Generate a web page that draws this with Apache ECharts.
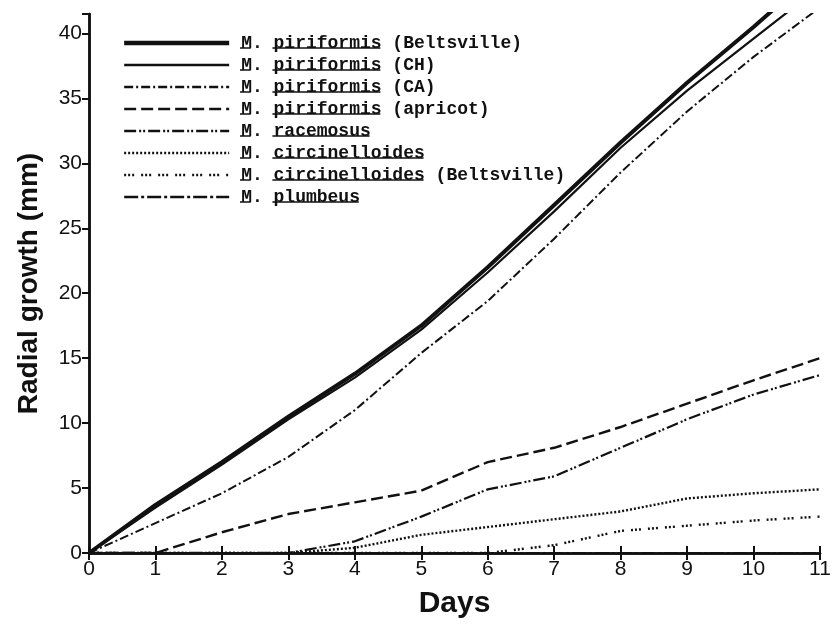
<!DOCTYPE html>
<html>
<head>
<meta charset="utf-8">
<script src="https://cdn.jsdelivr.net/npm/echarts@6/dist/echarts.min.js"></script>
<style>
  html, body { margin: 0; padding: 0; background: #fff; }
  #chart { width: 838px; height: 624px; }
</style>
</head>
<body>
<div id="chart"></div>
<script>
// days 0..11
const days = [0, 1, 2, 3, 4, 5, 6, 7, 8, 9, 10, 11]

// radial growth (mm)
const piriBeltsville = [0, 3.7, 7.0, 10.5, 13.8, 17.5, 22.0, 26.8, 31.6, 36.2, 40.5, 45.0]
const piriCH = [0, 3.5, 6.8, 10.3, 13.5, 17.2, 21.6, 26.3, 31.2, 35.6, 39.6, 43.6]
const piriCA = [0, 2.3, 4.6, 7.4, 11.0, 15.4, 19.4, 24.2, 29.3, 34.0, 38.2, 42.0]
const piriApricot = [0, 0, 1.6, 3.0, 3.9, 4.8, 7.0, 8.1, 9.7, 11.5, 13.3, 15.0]
const racemosus = [0, 0, 0, 0, 0.9, 2.8, 4.9, 5.9, 8.1, 10.3, 12.2, 13.7]
const circinelloides = [0, 0, 0, 0, 0.4, 1.4, 2.0, 2.6, 3.2, 4.2, 4.6, 4.9]
const circBeltsville = [0, 0, 0, 0, 0, 0, 0, 0.6, 1.7, 2.1, 2.5, 2.8]
const plumbeus = [0, 0, 0, 0, 0, 0, 0, 0, 0, 0, 0, 0]

const yTicks = [0, 5, 10, 15, 20, 25, 30, 35, 40]

// legend: [genus initial, species, suffix]
const legendNames = [
  ['M', 'piriformis', ' (Beltsville)'],
  ['M', 'piriformis', ' (CH)'],
  ['M', 'piriformis', ' (CA)'],
  ['M', 'piriformis', ' (apricot)'],
  ['M', 'racemosus', ''],
  ['M', 'circinelloides', ''],
  ['M', 'circinelloides', ' (Beltsville)'],
  ['M', 'plumbeus', '']
]

const seriesData = [piriBeltsville, piriCH, piriCA, piriApricot, racemosus, circinelloides, circBeltsville, plumbeus]
const lineStyles = [
  { width: 4, type: 'solid' },
  { width: 2.2, type: 'solid' },
  { width: 2, type: [9, 3, 2, 3] },
  { width: 2.4, type: [12, 5] },
  { width: 2.2, type: [12, 3, 2, 2, 2, 3] },
  { width: 2.4, type: [2, 2] },
  { width: 2.4, type: [2, 2, 2, 2, 2, 7] },
  { width: 2.2, type: [14, 3, 3, 3] }
]

const ink = '#111'
const chart = echarts.init(document.getElementById('chart'), null, { renderer: 'canvas' })

const names = legendNames.map(n => n[0] + '. ' + n[1] + n[2])

// legend layout (monospace) used for the underlines
const legLeft = 117
const legTop = 29
const rowH = 22
const iconW = 105
const textX = 240
const charW = 10.8

const underlines = []
legendNames.forEach((n, i) => {
  const y = legTop + i * rowH + rowH / 2 + 8
  underlines.push({ x1: textX, x2: textX + charW, y })
  underlines.push({ x1: textX + 3 * charW, x2: textX + (3 + n[1].length) * charW, y })
})

const option = {
  animation: false,
  backgroundColor: '#fff',
  grid: { left: 89, right: 18, top: 14, bottom: 69 },
  legend: {
    data: names.map((nm, i) => ({
      name: nm,
      lineStyle: { width: lineStyles[i].width + 0.3, type: lineStyles[i].type, color: ink }
    })),
    orient: 'vertical',
    left: legLeft,
    top: legTop,
    itemWidth: iconW,
    itemHeight: 14,
    itemGap: 4,
    itemStyle: { opacity: 0 },
    textStyle: {
      fontFamily: 'Liberation Mono',
      fontSize: 18,
      fontWeight: 'bold',
      color: ink,
      lineHeight: 18,
      padding: [0, 0, 0, textX - legLeft - iconW - 11]
    },
    inactiveColor: ink
  },
  xAxis: [
    {
      type: 'value',
      min: 0,
      max: 11,
      interval: 1,
      name: 'Days',
      nameLocation: 'middle',
      nameGap: 36,
      nameTextStyle: { fontFamily: 'Liberation Sans', fontSize: 30, fontWeight: 'bold', color: ink },
      axisLine: { show: true, lineStyle: { color: ink, width: 2.5 } },
      axisTick: { show: true, inside: true, length: 7, lineStyle: { color: ink, width: 2 } },
      axisLabel: { fontFamily: 'Liberation Sans', fontSize: 21, color: ink, margin: 6 },
      splitLine: { show: false }
    },
    {
      type: 'value',
      position: 'top',
      min: 0,
      max: 11,
      interval: 1,
      axisLine: { show: true, lineStyle: { color: ink, width: 2.5 } },
      axisTick: { show: true, inside: true, length: 7, lineStyle: { color: ink, width: 2 } },
      axisLabel: { show: false },
      splitLine: { show: false }
    }
  ],
  yAxis: [
    {
      type: 'value',
      min: 0,
      max: 41.5,
      interval: 5,
      name: 'Radial growth (mm)',
      nameLocation: 'middle',
      nameGap: 46,
      nameTextStyle: { fontFamily: 'Liberation Sans', fontSize: 28, fontWeight: 'bold', color: ink },
      axisLine: { show: true, lineStyle: { color: ink, width: 2.5 } },
      axisTick: { show: true, inside: false, length: 6, lineStyle: { color: ink, width: 2 } },
      axisLabel: {
        fontFamily: 'Liberation Sans',
        fontSize: 21,
        color: ink,
        margin: 7,
        showMaxLabel: false,
        formatter: v => (yTicks.includes(v) ? String(v) : '')
      },
      splitLine: { show: false }
    },
    {
      type: 'value',
      position: 'right',
      min: 0,
      max: 41.5,
      interval: 5,
      axisLine: { show: true, lineStyle: { color: ink, width: 2.5 } },
      axisTick: { show: true, inside: true, length: 7, lineStyle: { color: ink, width: 2 } },
      axisLabel: { show: false },
      splitLine: { show: false }
    }
  ],
  graphic: underlines.map(u => ({
    type: 'line',
    shape: { x1: u.x1, y1: u.y, x2: u.x2, y2: u.y },
    style: { stroke: ink, lineWidth: 1.5 },
    silent: true
  })),
  series: seriesData.map((vals, i) => ({
    name: names[i],
    type: 'line',
    data: days.map((d, j) => [d, vals[j]]),
    symbol: 'none',
    smooth: false,
    clip: true,
    lineStyle: Object.assign({ color: ink }, lineStyles[i]),
    itemStyle: { color: ink },
    z: 3
  }))
}

chart.setOption(option)
</script>
</body>
</html>
